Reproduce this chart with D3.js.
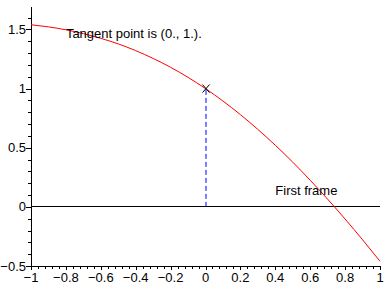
<!DOCTYPE html>
<html lang="en">
<head>
    <meta charset="UTF-8">
    <title>tangent plot</title>
    <script src="https://d3js.org/d3.v7.min.js"></script>
    <style>
        body { margin: 0; background: #fff; }
        text { font-family: "Liberation Sans", Arial, sans-serif; font-size: 13px; fill: #000; }
    </style>
</head>
<body>
    <svg id="graphic" width="388" height="288"></svg>
    <script>
        // curve values
        const xs = [-1, -0.9, -0.8, -0.7, -0.6, -0.5, -0.4, -0.3, -0.2, -0.1, 0,
                    0.1, 0.2, 0.3, 0.4, 0.5, 0.6, 0.7, 0.8, 0.9, 1];
        const ys = [1.540, 1.522, 1.497, 1.465, 1.425, 1.378, 1.321, 1.255, 1.180, 1.095, 1.000,
                    0.895, 0.780, 0.655, 0.521, 0.378, 0.225, 0.065, -0.103, -0.278, -0.460];
        const tangentPt = [0, 1];
        const xTicks = [-1, -0.8, -0.6, -0.4, -0.2, 0, 0.2, 0.4, 0.6, 0.8, 1];
        const yTicks = [-0.5, 0, 0.5, 1, 1.5];
        const labels = [
            {text: "Tangent point is (0., 1.).", x: -0.8, y: 1.43},
            {text: "First frame", x: 0.4, y: 0.1}
        ];

        const svg = d3.select("#graphic");
        const x = d3.scaleLinear().domain([-1, 1]).range([31, 380]);
        const y = d3.scaleLinear().domain([-0.5, 1.69]).range([266, 7]);

        // y = 0 line
        svg.append("line")
            .attr("x1", x(-1)).attr("x2", x(1))
            .attr("y1", y(0)).attr("y2", y(0))
            .attr("stroke", "#000").attr("shape-rendering", "crispEdges");

        // left axis
        const yMinor = d3.range(-5, 17).map(d => d / 10);
        const gy = svg.append("g").attr("transform", `translate(${x(-1)},0)`);
        gy.append("line").attr("y1", 7).attr("y2", y(-0.5))
            .attr("stroke", "#000").attr("shape-rendering", "crispEdges");
        gy.selectAll(".mn").data(yMinor).enter().append("line")
            .attr("x1", -3).attr("x2", 0)
            .attr("y1", d => Math.round(y(d)) + 0.5).attr("y2", d => Math.round(y(d)) + 0.5)
            .attr("stroke", "#000");
        gy.selectAll(".mj").data(yTicks).enter().append("line")
            .attr("x1", -5).attr("x2", 0)
            .attr("y1", d => Math.round(y(d)) + 0.5).attr("y2", d => Math.round(y(d)) + 0.5)
            .attr("stroke", "#000");
        gy.selectAll("text").data(yTicks).enter().append("text")
            .attr("x", -5).attr("y", d => y(d)).attr("dy", "0.35em")
            .attr("text-anchor", "end").text(d => d3.format("")(d));

        // bottom axis
        const xMinor = d3.range(-25, 26).map(d => d * 0.04);
        const gx = svg.append("g").attr("transform", `translate(0,${y(-0.5)})`);
        gx.append("line").attr("x1", x(-1)).attr("x2", x(1))
            .attr("stroke", "#000").attr("shape-rendering", "crispEdges");
        gx.selectAll(".mn").data(xMinor).enter().append("line")
            .attr("x1", d => Math.round(x(d)) + 0.5).attr("x2", d => Math.round(x(d)) + 0.5)
            .attr("y1", 0).attr("y2", 3).attr("stroke", "#000");
        gx.selectAll(".mj").data(xTicks).enter().append("line")
            .attr("x1", d => Math.round(x(d)) + 0.5).attr("x2", d => Math.round(x(d)) + 0.5)
            .attr("y1", 0).attr("y2", 4).attr("stroke", "#000");
        gx.selectAll("text").data(xTicks).enter().append("text")
            .attr("x", d => x(d)).attr("y", 16)
            .attr("text-anchor", "middle").text(d => d3.format("")(d));

        // tangent point dashed drop line
        svg.append("line")
            .attr("x1", x(tangentPt[0]) + 0.5).attr("x2", x(tangentPt[0]) + 0.5)
            .attr("y1", y(0)).attr("y2", y(tangentPt[1]))
            .attr("stroke", "#0000ff").attr("stroke-dasharray", "5,3");

        // the curve
        const pts = xs.map((d, i) => [d, ys[i]]);
        svg.append("path").datum(pts)
            .attr("fill", "none").attr("stroke", "#ff0000").attr("stroke-width", 1)
            .attr("d", d3.line().x(d => x(d[0])).y(d => y(d[1])).curve(d3.curveNatural));

        // point marker
        const px = x(tangentPt[0]) + 0.5, py = y(tangentPt[1]);
        svg.append("path")
            .attr("d", `M${px - 3.5},${py - 4}L${px + 3.5},${py + 4}M${px + 3.5},${py - 4}L${px - 3.5},${py + 4}`)
            .attr("stroke", "#000").attr("fill", "none");

        svg.selectAll(".lbl").data(labels).enter().append("text")
            .attr("x", d => x(d.x)).attr("y", d => y(d.y))
            .text(d => d.text);
    </script>
</body>
</html>
